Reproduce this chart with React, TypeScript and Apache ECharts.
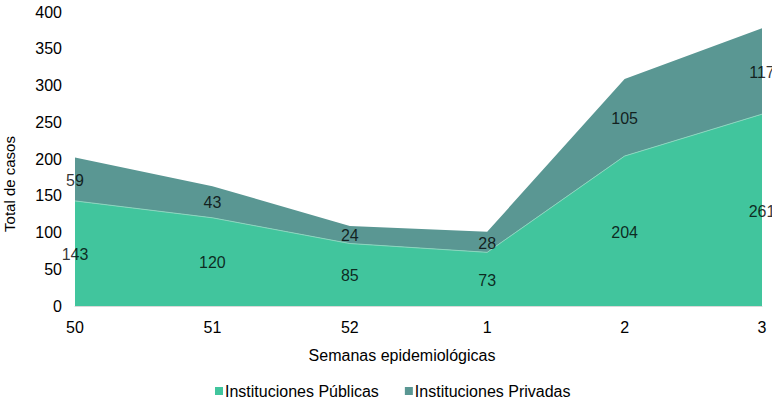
import React, { useEffect, useRef } from "react";
import * as echarts from "echarts";

const weeks = ["50", "51", "52", "1", "2", "3"];
const publicas = [143, 120, 85, 73, 204, 261];
const privadas = [59, 43, 24, 28, 105, 117];
const yTicks = { min: 0, max: 400, interval: 50 };

const FONT = "'Liberation Sans', Arial, sans-serif";
const GREEN = "#41C59D";
const TEAL = "#5A9793";

export default function App() {
  const ref = useRef<HTMLDivElement>(null);
  useEffect(() => {
    if (!ref.current) return;
    const chart = echarts.init(ref.current, undefined, { renderer: "svg" });
    const pubMid = publicas.map((v) => v / 2);
    const privMid = publicas.map((v, i) => v + privadas[i] / 2);
    const labelSeries = (data: number[], src: number[]) => ({
      type: "scatter",
      data,
      symbolSize: 1,
      z: 10,
      zlevel: 1,
      itemStyle: { color: "rgba(0,0,0,0)" },
      silent: true,
      clip: false,
      label: {
        show: true,
        position: "inside",
        offset: [0, 1],
        color: "#000",
        fontFamily: FONT,
        fontSize: 16,
        formatter: (p: any) => String(src[p.dataIndex]),
      },
    });
    chart.setOption({
      animation: false,
      grid: { left: 75, right: 10, top: 12, bottom: 97 },
      xAxis: {
        type: "category",
        data: weeks,
        boundaryGap: false,
        axisLine: { show: true, lineStyle: { color: "#D9D9D9", width: 1 } },
        axisTick: { show: false },
        axisLabel: { color: "#000", fontFamily: FONT, fontSize: 16, margin: 13 },
        splitLine: { show: false },
      },
      yAxis: {
        type: "value",
        min: yTicks.min,
        max: yTicks.max,
        interval: yTicks.interval,
        axisLine: { show: false },
        axisTick: { show: false },
        splitLine: { show: false },
        axisLabel: { color: "#000", fontFamily: FONT, fontSize: 16, margin: 13 },
      },
      legend: {
        data: ["Instituciones Públicas", "Instituciones Privadas"],
        left: 210,
        top: 378,
        itemWidth: 8,
        itemHeight: 8,
        itemGap: 26,
        icon: "rect",
        textStyle: { color: "#000", fontFamily: FONT, fontSize: 16, padding: [0, 0, 0, -3] },
      },
      graphic: [
        {
          type: "text",
          x: 402,
          y: 355,
          style: {
            text: "Semanas epidemiológicas",
            fill: "#000",
            font: `16px ${FONT}`,
            textAlign: "center",
            textVerticalAlign: "middle",
          },
        },
        {
          type: "text",
          x: 9,
          y: 184,
          rotation: Math.PI / 2,
          style: {
            text: "Total de casos",
            fill: "#000",
            font: `15px ${FONT}`,
            textAlign: "center",
            textVerticalAlign: "middle",
          },
        },
      ],
      series: [
        {
          name: "Instituciones Públicas",
          type: "line",
          stack: "total",
          data: publicas,
          symbol: "none",
          lineStyle: { width: 1, color: "#8AD6BE" },
          itemStyle: { color: GREEN },
          areaStyle: { color: GREEN, opacity: 1 },
        },
        {
          name: "Instituciones Privadas",
          type: "line",
          stack: "total",
          data: privadas,
          symbol: "none",
          lineStyle: { width: 0 },
          itemStyle: { color: TEAL },
          areaStyle: { color: TEAL, opacity: 1 },
        },
        labelSeries(pubMid, publicas),
        labelSeries(privMid, privadas),
      ],
    });
    return () => chart.dispose();
  }, []);
  return <div ref={ref} style={{ width: 772, height: 403, position: "absolute", left: 0, top: 0 }} />;
}
